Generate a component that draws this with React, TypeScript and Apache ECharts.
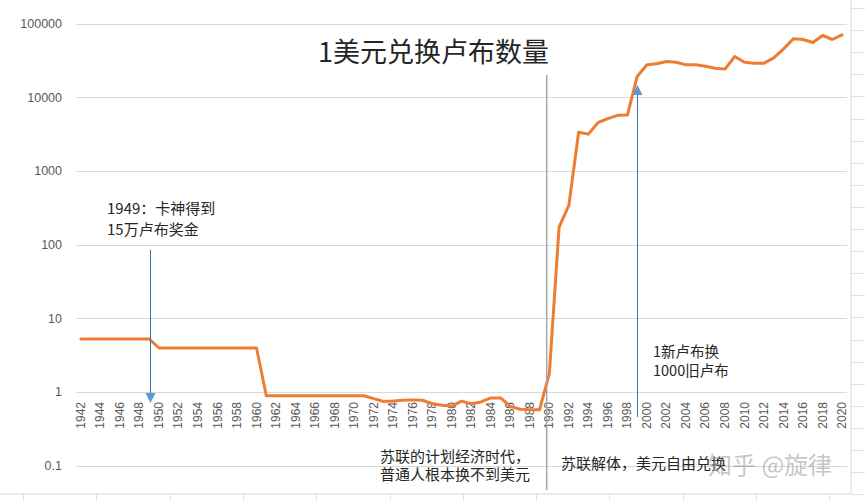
import React, { useEffect, useRef } from "react";
import * as echarts from "echarts";

const years: string[] = [
  "1942","1943","1944","1945","1946","1947","1948","1949","1950","1951",
  "1952","1953","1954","1955","1956","1957","1958","1959","1960","1961",
  "1962","1963","1964","1965","1966","1967","1968","1969","1970","1971",
  "1972","1973","1974","1975","1976","1977","1978","1979","1980","1981",
  "1982","1983","1984","1985","1986","1987","1988","1989","1990","1991",
  "1992","1993","1994","1995","1996","1997","1998","1999","2000","2001",
  "2002","2003","2004","2005","2006","2007","2008","2009","2010","2011",
  "2012","2013","2014","2015","2016","2017","2018","2019","2020",
];

const rublesPerDollar: number[] = [
  // 1942-1949
  5.3, 5.3, 5.3, 5.3, 5.3, 5.3, 5.3, 5.3,
  // 1950-1960
  4.0, 4.0, 4.0, 4.0, 4.0, 4.0, 4.0, 4.0, 4.0, 4.0, 4.0,
  // 1961-1971
  0.9, 0.9, 0.9, 0.9, 0.9, 0.9, 0.9, 0.9, 0.9, 0.9, 0.9,
  // 1972-1981
  0.82, 0.75, 0.76, 0.78, 0.79, 0.78, 0.70, 0.67, 0.65, 0.76,
  // 1982-1990
  0.70, 0.74, 0.84, 0.84, 0.645, 0.59, 0.58, 0.58, 1.8,
  // 1991-2000
  175, 345, 3400, 3200, 4600, 5200, 5750, 5800, 19400, 28000,
  // 2001-2010
  28800, 31000, 30300, 27900, 27900, 26700, 25100, 24400, 36200, 30300,
  // 2011-2020
  29400, 29400, 34700, 46000, 62900, 61600, 56100, 69800, 61600, 71300,
];

const yTicks: number[] = [0.1, 1, 10, 100, 1000, 10000, 100000];

const titleText = "1美元兑换卢布数量";
const noteKashen = ["1949：卡神得到", "15万卢布奖金"];
const noteRedenom = ["1新卢布换", "1000旧卢布"];
const notePlanned = ["苏联的计划经济时代，", "普通人根本换不到美元"];
const noteCollapse = "苏联解体，美元自由兑换";
const watermark = "知乎 @旋律";

const CJK = '"Noto Sans CJK SC", "Noto Sans", sans-serif';
const LAT = '"Liberation Sans", Arial, sans-serif';

export default function App() {
  const ref = useRef<HTMLDivElement>(null);

  useEffect(() => {
    if (!ref.current) return;
    const chart = echarts.init(ref.current, undefined, { renderer: "svg" });

    const text = (
      t: string,
      x: number,
      y: number,
      size: number,
      fill: string,
      lineHeight?: number
    ) => ({
      type: "text",
      x,
      y,
      z: 100,
      style: {
        text: t,
        fill,
        font: `${size}px ${CJK}`,
        lineHeight: lineHeight ?? Math.round(size * 1.3),
        align: "left",
        verticalAlign: "middle",
        textAlign: "left",
        textVerticalAlign: "middle",
      },
    });

    const deco: any[] = [];
    // chart frame
    deco.push({
      type: "rect",
      z: -10,
      shape: { x: -2, y: -2, width: 853, height: 496 },
      style: { fill: "#ffffff", stroke: "#d9d9d9", lineWidth: 1 },
    });
    // spreadsheet cell lines outside the chart
    for (let x = 23; x < 865; x += 73.3) {
      deco.push({
        type: "line",
        z: -10,
        shape: { x1: Math.round(x) + 0.5, y1: 494, x2: Math.round(x) + 0.5, y2: 500 },
        style: { stroke: "#e0e0e0", lineWidth: 1 },
      });
    }
    for (let y = 8; y < 500; y += 22.1) {
      deco.push({
        type: "line",
        z: -10,
        shape: { x1: 851, y1: Math.round(y) + 0.5, x2: 865, y2: Math.round(y) + 0.5 },
        style: { stroke: "#e0e0e0", lineWidth: 1 },
      });
    }

    const annotations: any[] = [
      // gray divider
      {
        type: "line",
        z: 50,
        shape: { x1: 546.7, y1: 75, x2: 546.7, y2: 490 },
        style: { stroke: "#a6a6a6", lineWidth: 1.5 },
      },
      // arrow down (1949)
      {
        type: "line",
        z: 50,
        shape: { x1: 150.5, y1: 250, x2: 150.5, y2: 396 },
        style: { stroke: "#41719c", lineWidth: 1 },
      },
      {
        type: "polygon",
        z: 50,
        shape: { points: [[145.5, 393], [155.5, 393], [150.5, 403]] },
        style: { fill: "#5b9bd5" },
      },
      // arrow up (redenomination)
      {
        type: "line",
        z: 50,
        shape: { x1: 637.5, y1: 417, x2: 637.5, y2: 92 },
        style: { stroke: "#41719c", lineWidth: 1 },
      },
      {
        type: "polygon",
        z: 50,
        shape: { points: [[632.5, 95], [642.5, 95], [637.5, 85]] },
        style: { fill: "#5b9bd5" },
      },
      text(titleText, 318, 50, 27, "#262626"),
      text(noteKashen.join("\n"), 107, 217.5, 15, "#262626", 21),
      text(noteRedenom.join("\n"), 653, 359.5, 14.5, "#262626", 19),
      text(notePlanned.join("\n"), 380, 464, 15, "#262626", 18),
      text(noteCollapse, 561, 462, 15, "#262626"),
      text(watermark, 708, 463, 24, "rgba(150,150,150,0.55)"),
    ];

    chart.setOption({
      animation: false,
      backgroundColor: "#ffffff",
      grid: { left: 76, right: 18, top: 24, bottom: 34, containLabel: false },
      xAxis: {
        type: "category",
        data: years,
        boundaryGap: true,
        position: "bottom",
        offset: -74,
        axisLine: { show: false },
        axisTick: { show: false },
        splitLine: { show: false },
        axisLabel: {
          interval: 1,
          rotate: 90,
          margin: 10,
          color: "#595959",
          fontSize: 12,
          fontFamily: LAT,
        },
      },
      yAxis: {
        type: "log",
        logBase: 10,
        min: 0.1,
        max: 100000,
        axisLine: { show: false },
        axisTick: { show: false },
        splitLine: { show: true, lineStyle: { color: "#d9d9d9", width: 1 } },
        axisLabel: {
          color: "#595959",
          fontSize: 12.5,
          fontFamily: LAT,
          margin: 14,
          formatter: (v: number) => {
            const m = yTicks.find((t) => Math.abs(t - v) / t < 1e-6);
            return m !== undefined ? String(m) : "";
          },
        },
      },
      series: [
        {
          type: "line",
          data: rublesPerDollar,
          symbol: "none",
          smooth: false,
          lineStyle: { color: "#ED7D31", width: 3, join: "round", cap: "round" },
          itemStyle: { color: "#ED7D31" },
          z: 10,
        },
      ],
      graphic: [...deco, ...annotations],
    });

    return () => chart.dispose();
  }, []);

  return (
    <div
      ref={ref}
      style={{ position: "fixed", left: 0, top: 0, width: 865, height: 500, background: "#fff" }}
    />
  );
}
